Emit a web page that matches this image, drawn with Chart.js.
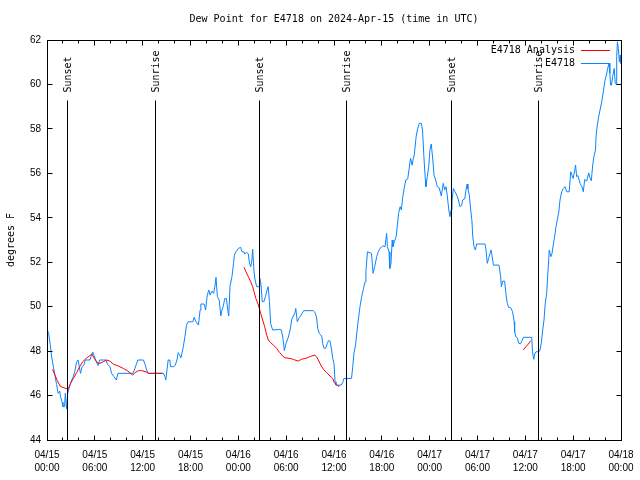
<!DOCTYPE html>
<html>
<head>
<meta charset="utf-8">
<script src="https://cdn.jsdelivr.net/npm/chart.js@4.4.1/dist/chart.umd.min.js"></script>
<style>
  html, body { margin: 0; padding: 0; background: #fff; }
  #wrap { width: 640px; height: 480px; }
</style>
</head>
<body>
<div id="wrap"><canvas id="dewChart" width="640" height="480"></canvas></div>
<script>
// hours since 2024-04-15 00:00 UTC
var obsHours = [
  0.0, 0.2, 0.4, 0.6, 0.8, 1.0, 1.2, 1.4, 1.6, 1.7, 1.9, 2.0, 2.2, 2.3, 2.45, 2.6, 2.9, 3.1, 3.3, 3.5,
  3.7, 3.9, 4.05, 4.2, 4.4, 4.6, 4.8, 5.4, 5.6, 5.75, 5.9, 6.1, 6.4, 6.6, 7.4, 7.6, 7.9, 8.1, 8.4, 8.7,
  8.9, 10.8, 11.0, 11.2, 11.4, 12.1, 12.3, 12.5, 12.7, 14.6, 14.8, 14.9, 15.05, 15.2, 15.4, 15.5, 15.9, 16.1, 16.3, 16.45,
  16.6, 16.8, 17.1, 17.3, 17.5, 17.7, 18.3, 18.45, 18.7, 19.0, 19.2, 19.3, 19.7, 19.9, 20.1, 20.3, 20.45, 20.7, 20.9, 21.07,
  21.2, 21.37, 21.6, 21.8, 21.95, 22.1, 22.3, 22.5, 22.7, 22.8, 22.95, 23.2, 23.4, 23.5, 23.7, 24.0, 24.3, 24.46, 24.7, 24.8,
  25.05, 25.25, 25.4, 25.55, 25.7, 25.8, 25.97, 26.1, 26.3, 26.6, 26.7, 26.85, 27.0, 27.2, 27.4, 27.6, 27.75, 27.9, 28.05, 28.3,
  29.2, 29.4, 29.6, 29.77, 29.98, 30.27, 30.5, 30.7, 30.9, 31.1, 31.2, 31.4, 31.57, 31.8, 32.0, 32.2, 33.4, 33.6, 33.8, 33.96,
  34.15, 34.46, 34.58, 34.75, 35.0, 35.16, 35.33, 35.5, 35.7, 35.84, 36.0, 36.13, 36.25, 36.9, 37.1, 37.25, 38.2, 38.35, 38.5, 38.7,
  38.9, 39.1, 39.26, 39.47, 39.7, 39.9, 40.0, 40.2, 40.7, 40.9, 41.1, 41.36, 41.56, 41.77, 42.1, 42.4, 42.6, 42.7, 42.9, 43.0,
  43.15, 43.3, 43.4, 43.56, 43.8, 43.95, 44.1, 44.3, 44.45, 44.6, 44.8, 45.0, 45.25, 45.4, 45.6, 45.8, 45.95, 46.07, 46.3, 46.5,
  46.7, 46.95, 47.1, 47.3, 47.46, 47.54, 47.7, 47.88, 48.04, 48.2, 48.4, 48.55, 48.75, 48.96, 49.2, 49.46, 49.7, 49.89, 50.05, 50.2,
  50.4, 50.55, 50.68, 50.8, 50.97, 51.18, 51.4, 51.6, 51.8, 52.0, 52.14, 52.4, 52.56, 52.7, 52.8, 52.97, 53.15, 53.3, 53.4, 53.56,
  53.73, 53.9, 54.94, 55.07, 55.23, 55.4, 55.57, 55.7, 55.82, 56.0, 56.7, 56.9, 57.0, 57.16, 57.4, 57.6, 57.74, 57.9, 58.16, 58.4,
  58.6, 58.66, 58.8, 59.0, 59.17, 59.4, 59.58, 59.75, 60.8, 60.9, 61.05, 61.18, 61.34, 61.68, 61.84, 62.0, 62.18, 62.34, 62.5, 62.68,
  62.8, 62.93, 63.0, 63.2, 63.35, 63.5, 63.7, 63.85, 64.0, 64.2, 64.35, 64.56, 64.77, 64.98, 65.2, 65.5, 65.7, 65.86, 66.0, 66.2,
  66.3, 66.44, 66.6, 66.86, 67.1, 67.27, 67.45, 67.7, 67.95, 68.1, 68.28, 68.45, 68.6, 68.8, 68.87, 69.0, 69.2, 69.37, 69.58, 69.78,
  70.0, 70.2, 70.33, 70.5, 70.6, 70.7, 70.8, 70.95, 71.15, 71.28, 71.4, 71.46, 71.55, 71.67, 71.8, 71.9, 71.95
];
var obsValues = [
  49.0, 48.8, 48.3, 47.7, 47.3, 46.9, 46.5, 46.1, 46.2, 45.95, 45.7, 45.5, 45.5, 46.1, 45.4, 46.1, 46.5, 46.7, 46.85, 47.1,
  47.5, 47.6, 47.3, 47.0, 47.3, 47.35, 47.6, 47.6, 47.85, 47.95, 47.8, 47.6, 47.35, 47.6, 47.6, 47.4, 47.3, 47.0, 46.85, 46.7,
  47.0, 47.0, 47.2, 47.4, 47.6, 47.6, 47.4, 47.15, 47.0, 47.0, 46.85, 46.7, 47.15, 47.6, 47.6, 47.3, 47.3, 47.38, 47.6, 47.93,
  47.85, 47.7, 48.2, 48.65, 49.17, 49.32, 49.32, 49.52, 49.32, 49.17, 49.85, 50.12, 50.12, 49.85, 50.52, 50.75, 50.52, 50.7, 50.6, 50.93,
  51.32, 50.45, 50.3, 49.58, 49.85, 50.0, 50.37, 50.37, 49.77, 49.58, 50.9, 51.35, 51.95, 52.32, 52.47, 52.62, 52.67, 52.47, 52.47, 52.37,
  52.45, 52.37, 51.95, 51.8, 52.1, 52.58, 51.57, 51.2, 50.9, 50.9, 51.27, 50.97, 50.23, 50.23, 50.45, 50.75, 50.9, 50.23, 49.25, 48.95,
  48.98, 48.95, 48.57, 48.02, 48.35, 48.62, 48.95, 49.43, 49.58, 49.73, 49.92, 49.32, 49.47, 49.58, 49.7, 49.82, 49.82, 49.75, 49.55, 49.03,
  48.8, 48.68, 48.35, 48.12, 48.15, 48.35, 48.47, 48.45, 48.05, 47.67, 47.45, 46.62, 46.47, 46.47, 46.6, 46.77, 46.77, 47.3, 47.9, 48.27,
  48.95, 49.55, 50.0, 50.45, 50.82, 51.12, 51.57, 52.47, 52.4, 51.5, 51.8, 52.25, 52.47, 52.62, 52.73, 52.7, 53.3, 52.7, 52.47, 51.72,
  51.95, 53.0, 52.7, 52.92, 53.15, 53.67, 54.2, 54.5, 54.35, 54.87, 55.32, 55.7, 55.75, 56.15, 56.68, 56.37, 56.68, 56.82, 57.65, 58.02,
  58.25, 58.25, 57.95, 56.6, 55.7, 55.4, 55.85, 56.3, 57.08, 57.32, 56.6, 55.92, 55.7, 55.4, 55.35, 54.98, 55.55, 55.25, 55.4, 55.02,
  54.35, 54.05, 54.35, 54.72, 55.32, 55.17, 55.02, 54.8, 54.5, 54.55, 54.8, 54.85, 55.25, 55.52, 55.3, 55.02, 54.35, 53.87, 53.18, 52.7,
  52.55, 52.82, 52.82, 52.55, 51.95, 52.17, 52.4, 52.55, 52.3, 51.87, 51.87, 51.35, 50.9, 51.15, 51.15, 50.48, 50.15, 49.97, 49.95, 49.78,
  49.32, 48.87, 48.65, 48.6, 48.35, 48.33, 48.47, 48.62, 48.62, 47.97, 47.63, 47.87, 47.97, 47.97, 48.05, 48.35, 48.95, 49.4, 50.15, 50.6,
  51.35, 52.1, 52.55, 52.25, 52.4, 52.77, 53.22, 53.6, 53.9, 54.27, 54.8, 55.17, 55.32, 55.4, 55.17, 55.17, 56.07, 55.9, 55.77, 56.15,
  56.37, 55.85, 55.9, 55.55, 55.4, 55.17, 55.73, 55.65, 56.02, 55.8, 55.67, 56.37, 56.75, 57.05, 57.65, 58.1, 58.55, 58.85, 59.22, 59.67,
  60.2, 60.47, 60.72, 60.95, 60.5, 59.97, 59.97, 60.35, 60.72, 60.05, 60.0, 61.25, 61.92, 61.62, 61.02, 61.32, 60.95
];

// analysis series, null = no analysis (gap)
var anaHours = [
  0.7, 1.0, 1.3, 1.63, 1.97, 2.38, 2.63, 2.97, 3.3, 3.72, 4.05, 4.47, 4.9, 5.3, 5.64, 5.93, 6.3, 6.65, 7.06, 7.48,
  7.9, 8.3, 8.95, 9.57, 10.07, 10.5, 10.75, 11.04, 11.46, 11.88, 12.42, 12.7, 13.6, 14.5,
  20.0,
  24.71, 24.96, 25.25, 25.55, 25.8, 25.97, 26.2, 26.47, 26.63, 26.8, 27.05, 27.3, 27.56, 27.77, 28.05, 28.4, 28.8, 29.2, 29.56,
  29.85, 30.48, 30.9, 31.1, 31.5, 31.9, 32.36, 32.78, 33.2, 33.6, 33.8, 34.04, 34.33, 34.67, 35.08, 35.5, 35.84, 36.04, 36.34, 36.67,
  48.0,
  59.75, 60.08, 60.38, 60.67
];
var anaValues = [
  47.18, 46.92, 46.67, 46.43, 46.37, 46.32, 46.28, 46.55, 46.77, 47.03, 47.27, 47.52, 47.67, 47.78, 47.87, 47.67, 47.48, 47.45, 47.52, 47.6,
  47.55, 47.42, 47.33, 47.22, 47.12, 47.0, 46.92, 47.03, 47.12, 47.12, 47.07, 47.0, 47.0, 47.0,
  null,
  51.77, 51.57, 51.35, 51.12, 50.9, 50.67, 50.37, 50.12, 49.92, 49.7, 49.4, 49.1, 48.72, 48.5, 48.38, 48.27, 48.12, 47.93, 47.78,
  47.7, 47.67, 47.63, 47.6, 47.55, 47.63, 47.67, 47.72, 47.78, 47.82, 47.75, 47.6, 47.38, 47.18, 47.03, 46.88, 46.77, 46.58, 46.47, 46.4,
  null,
  48.05, 48.2, 48.32, 48.47
];

var sunHours = [2.55, 13.6, 26.63, 37.57, 50.72, 61.68];
var sunLabels = ['Sunset', 'Sunrise', 'Sunset', 'Sunrise', 'Sunset', 'Sunrise'];

var dateLabels = ['04/15', '04/15', '04/15', '04/15', '04/16', '04/16', '04/16', '04/16', '04/17', '04/17', '04/17', '04/17', '04/18'];
var timeLabels = ['00:00', '06:00', '12:00', '18:00', '00:00', '06:00', '12:00', '18:00', '00:00', '06:00', '12:00', '18:00', '00:00'];

var MONO = '"DejaVu Sans Mono", monospace';
var SANS = '"Liberation Sans", Arial, sans-serif';

function toPoints(xs, ys) {
  return xs.map(function (x, i) { return { x: x, y: ys[i] }; });
}

// gnuplot-ish frame, inward ticks, sun lines, legend, title
var gnuFrame = {
  id: 'gnuFrame',
  afterDraw: function (chart) {
    var ctx = chart.ctx;
    var a = chart.chartArea;
    var xs = chart.scales.x, ys = chart.scales.y;
    var L = Math.floor(a.left) + 0.5, R = Math.floor(a.right) + 0.5;
    var T = Math.floor(a.top) + 0.5, B = Math.floor(a.bottom) + 0.5;
    ctx.save();
    ctx.strokeStyle = '#000';
    ctx.lineWidth = 1;

    // sunrise / sunset markers
    ctx.font = '10px ' + MONO;
    ctx.fillStyle = '#000';
    sunHours.forEach(function (h, i) {
      var px = Math.floor(xs.getPixelForValue(h)) + 0.5;
      ctx.beginPath();
      ctx.moveTo(px, B);
      ctx.lineTo(px, T + 60);
      ctx.stroke();
      ctx.save();
      ctx.translate(px + 1, T + 52);
      ctx.rotate(-Math.PI / 2);
      ctx.textAlign = 'left';
      ctx.textBaseline = 'middle';
      ctx.fillText(sunLabels[i], 0, 0);
      ctx.restore();
    });

    // frame
    ctx.strokeRect(L, T, R - L, B - T);

    // x ticks: major every 6h, minor every 2h
    ctx.beginPath();
    for (var h = 0; h <= 72; h += 2) {
      var px = Math.floor(xs.getPixelForValue(h)) + 0.5;
      var len = (h % 6 === 0) ? 5 : 3;
      ctx.moveTo(px, B); ctx.lineTo(px, B - len);
      ctx.moveTo(px, T); ctx.lineTo(px, T + len);
    }
    for (var v = 44; v <= 62; v += 2) {
      var py = Math.floor(ys.getPixelForValue(v)) + 0.5;
      ctx.moveTo(L, py); ctx.lineTo(L + 5, py);
      ctx.moveTo(R, py); ctx.lineTo(R - 5, py);
    }
    ctx.stroke();

    // legend
    var ds = chart.data.datasets;
    ctx.font = '10px ' + MONO;
    ctx.textAlign = 'right';
    ctx.textBaseline = 'middle';
    ds.forEach(function (d, i) {
      var y = 50 + i * 13;
      ctx.fillStyle = '#000';
      ctx.fillText(d.label, 575, y);
      ctx.strokeStyle = d.borderColor;
      ctx.beginPath();
      ctx.moveTo(581, y + 0.5);
      ctx.lineTo(610, y + 0.5);
      ctx.stroke();
    });

    // title and y label
    ctx.fillStyle = '#000';
    ctx.textAlign = 'center';
    ctx.fillText('Dew Point for E4718 on 2024-Apr-15 (time in UTC)', (a.left + a.right) / 2, 19);
    ctx.save();
    ctx.translate(11, (a.top + a.bottom) / 2);
    ctx.rotate(-Math.PI / 2);
    ctx.fillText('degrees F', 0, 0);
    ctx.restore();
    ctx.restore();
  }
};

var ctx1 = document.getElementById('dewChart').getContext('2d');
new Chart(ctx1, {
  type: 'line',
  data: {
    datasets: [
      {
        label: 'E4718 Analysis',
        data: toPoints(anaHours, anaValues),
        borderColor: '#ff0000',
        borderWidth: 1,
        pointRadius: 0,
        tension: 0,
        spanGaps: false
      },
      {
        label: 'E4718',
        data: toPoints(obsHours, obsValues),
        borderColor: '#0a84ff',
        borderWidth: 1,
        pointRadius: 0,
        tension: 0
      }
    ]
  },
  options: {
    responsive: false,
    animation: false,
    devicePixelRatio: 1,
    layout: { padding: { top: 40, right: 19, left: 0, bottom: 0 } },
    plugins: {
      legend: { display: false },
      title: { display: false },
      tooltip: { enabled: false }
    },
    scales: {
      x: {
        type: 'linear',
        min: 0,
        max: 72,
        grid: { display: false, drawTicks: false },
        border: { display: false },
        afterFit: function (s) {
          s.height = 40;
          s.paddingLeft = 0;
          s.paddingRight = 0;
        },
        ticks: {
          stepSize: 6,
          autoSkip: false,
          maxRotation: 0,
          padding: 9,
          color: '#000',
          font: { family: SANS, size: 10, lineHeight: 1.3 },
          callback: function (val, i) { return [dateLabels[i], timeLabels[i]]; }
        }
      },
      y: {
        min: 44,
        max: 62,
        grid: { display: false, drawTicks: false },
        border: { display: false },
        afterFit: function (s) { s.width = 47; },
        ticks: {
          stepSize: 2,
          padding: 6,
          color: '#000',
          font: { family: SANS, size: 10 }
        }
      }
    }
  },
  plugins: [gnuFrame]
});
</script>
</body>
</html>
